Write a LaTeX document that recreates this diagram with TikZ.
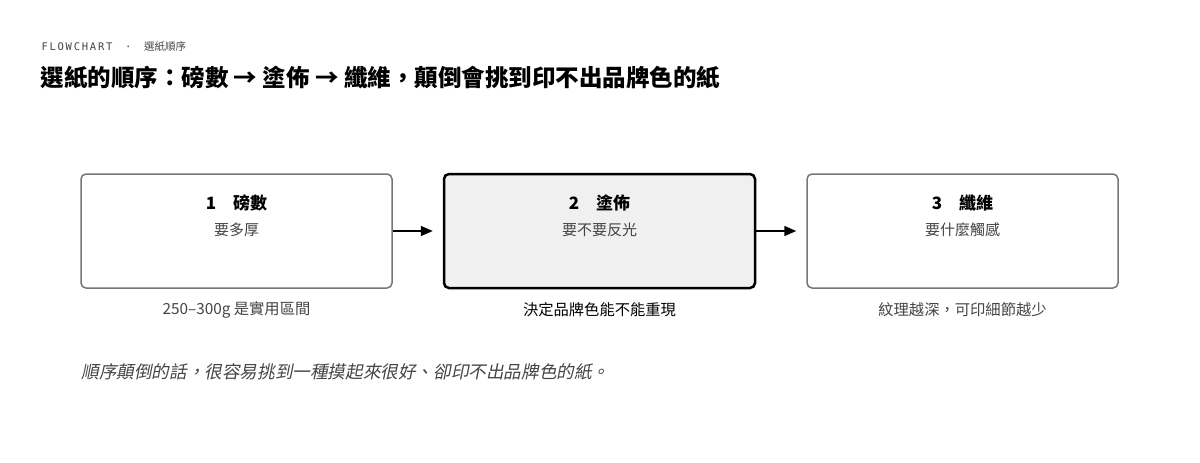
\documentclass[tikz,border=0pt]{standalone}
\usepackage{fontspec}
\setmainfont{Noto Sans CJK TC}
\newfontfamily\cjkslant{Noto Sans CJK TC}[FakeSlant=0.2]
\newfontfamily\monofont{DejaVu Sans Mono}
\usetikzlibrary{positioning,arrows.meta}
\definecolor{boxgray}{HTML}{777777}
\definecolor{subgray}{HTML}{444444}
\definecolor{fillgray}{HTML}{F0F0F0}
\tikzset{
  stage/.style={draw=boxgray,line width=1.5pt,rounded corners=5pt,minimum width=311pt,minimum height=114pt,fill=white},
  stageon/.style={stage,draw=black,line width=2.5pt,fill=fillgray},
  head/.style={font=\fontsize{17}{19}\selectfont\bfseries},
  sub/.style={text=subgray,font=\fontsize{15}{17}\selectfont},
  note/.style={font=\fontsize{15.3}{17}\selectfont},
  link/.style={-{Triangle[length=12pt,width=10pt]},line width=1.5pt}
}
\begin{document}
\begin{tikzpicture}[x=1pt,y=-1pt]
    \useasboundingbox (0,0) rectangle (1200,463);
    % header
    \node[anchor=west,text=subgray,font=\monofont\fontsize{10.5}{12}\selectfont] (tag) at (38,47) {F\,L\,O\,W\,C\,H\,A\,R\,T~~·~~{\rmfamily 選紙順序}};
    \node[anchor=west,font=\fontsize{23.5}{27}\selectfont\bfseries] (title) at (37,77) {選紙的順序：磅數 → 塗佈 → 纖維，顛倒會挑到印不出品牌色的紙};
    % stages
    \node[stage] (s1) at (236.5,231) {};
    \node[stageon] (s2) at (599.5,231) {};
    \node[stage] (s3) at (962.5,231) {};
    \node[head] (h1) at (236.5,203) {1\quad 磅數};
    \node[sub] (t1) at (236.5,230) {要多厚};
    \node[head] (h2) at (599.5,203) {2\quad 塗佈};
    \node[sub] (t2) at (599.5,230) {要不要反光};
    \node[head] (h3) at (962.5,203) {3\quad 纖維};
    \node[sub] (t3) at (962.5,230) {要什麼觸感};
    \draw[link] (s1.east) -- ++(40,0);
    \draw[link] (s2.east) -- ++(40,0);
    % captions
    \node[note,text=subgray] (c1) at (236.5,310) {250–300g 是實用區間};
    \node[note] (c2) at (599.5,310) {決定品牌色能不能重現};
    \node[note,text=subgray] (c3) at (962.5,310) {紋理越深，可印細節越少};
    \node[anchor=west,text=subgray,font=\cjkslant\fontsize{17.6}{20}\selectfont] (moral) at (78,372) {順序顛倒的話，很容易挑到一種摸起來很好、卻印不出品牌色的紙。};
\end{tikzpicture}
\end{document}
